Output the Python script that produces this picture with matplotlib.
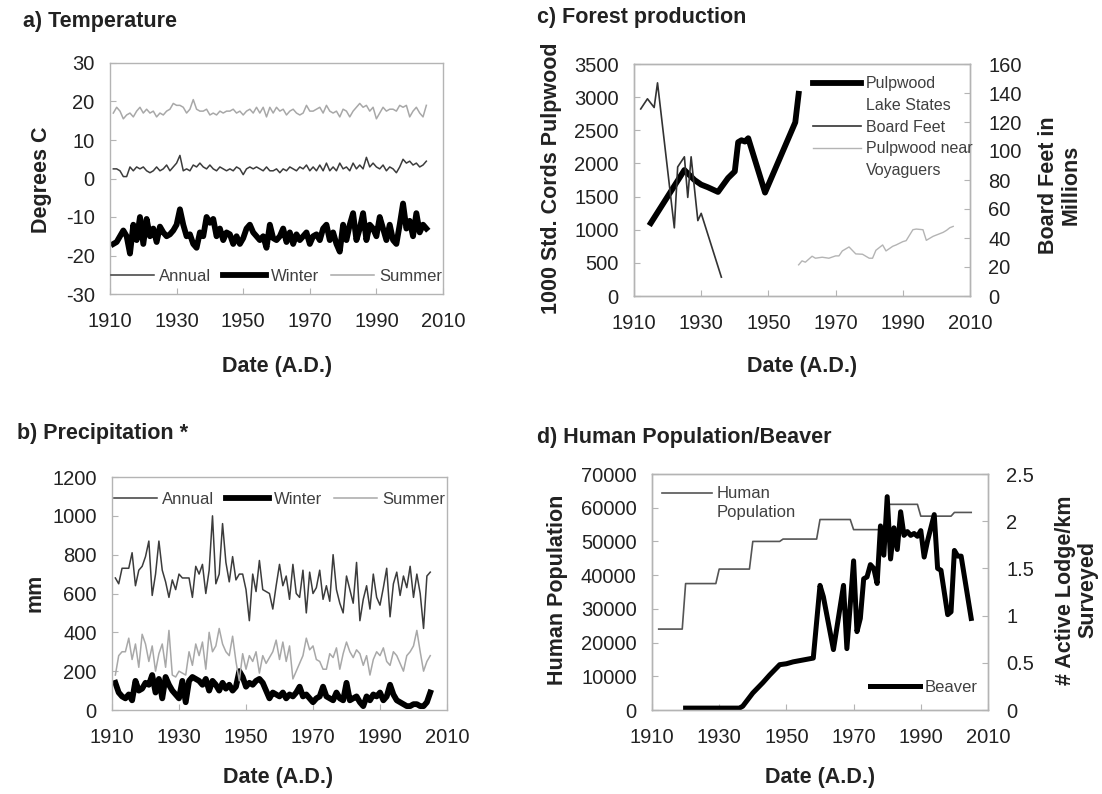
import matplotlib

matplotlib.use("Agg")
import matplotlib.pyplot as plt
import numpy as np
from matplotlib.lines import Line2D
from matplotlib.ticker import FuncFormatter, MultipleLocator

plt.rcParams["font.family"] = ["Liberation Sans", "DejaVu Sans"]
plt.rcParams["axes.unicode_minus"] = False

W, H = 1102, 794
SPINE = "#b4b4b4"
TXT = "#222222"

# a) Temperature, 1911-2005 (degrees C)
temp_years = np.arange(1911, 2006)
temp_annual = [
    2.5, 2.5, 2.0, 0.5, 0.5, 3.0, 2.0, 3.0, 2.5, 3.0,
    2.0, 1.5, 2.0, 3.0, 2.0, 2.5, 3.5, 2.0, 3.0, 4.0,
    6.0, 2.0, 2.5, 2.0, 3.5, 3.0, 4.0, 3.0, 2.5, 3.5,
    2.5, 2.0, 3.0, 2.5, 2.0, 2.5, 2.0, 3.0, 2.5, 1.0,
    2.5, 3.0, 2.5, 3.0, 2.5, 2.0, 3.0, 2.0, 2.0, 2.5,
    1.5, 2.5, 2.0, 3.0, 2.5, 2.0, 3.0, 2.5, 3.5, 2.0,
    3.0, 2.0, 3.5, 2.0, 4.0, 2.0, 3.0, 2.0, 4.0, 2.5,
    3.0, 2.0, 4.0, 2.5, 3.5, 2.5, 5.5, 3.0, 4.0, 3.0,
    2.5, 3.5, 2.0, 3.0, 2.5, 1.5, 3.0, 5.0, 4.0, 4.5,
    3.5, 4.0, 3.0, 3.5, 4.5,
]
temp_winter = [
    -17.0, -16.5, -15.0, -13.5, -15.0, -19.5, -12.0, -16.0, -10.0, -17.0,
    -10.5, -15.0, -13.0, -16.5, -12.5, -14.0, -15.0, -14.5, -13.5, -12.0,
    -8.0, -12.0, -15.0, -14.5, -17.0, -18.0, -14.0, -15.0, -10.0, -11.5,
    -10.5, -15.0, -13.0, -16.0, -14.0, -14.5, -17.0, -15.0, -17.0, -15.5,
    -13.0, -12.0, -14.0, -15.0, -16.0, -15.0, -18.0, -12.0, -15.5, -16.0,
    -15.0, -13.0, -16.5, -14.0, -17.0, -14.5, -16.0, -15.0, -14.0, -17.0,
    -15.0, -14.5, -16.0, -13.0, -12.0, -16.0, -14.0, -17.0, -19.0, -12.0,
    -16.0, -12.0, -9.0, -16.0, -13.0, -9.0, -16.0, -12.0, -13.0, -15.0,
    -10.0, -13.0, -16.0, -12.0, -16.0, -17.0, -12.0, -6.5, -13.0, -11.0,
    -15.0, -9.0, -14.0, -12.0, -13.0,
]
temp_summer = [
    17.0, 18.5, 17.5, 15.5, 16.5, 17.0, 16.0, 17.5, 18.5, 17.0,
    18.0, 17.0, 17.5, 16.0, 17.0, 16.5, 17.5, 18.0, 19.5, 19.0,
    19.0, 18.5, 17.0, 18.0, 20.5, 18.0, 17.5, 17.5, 18.0, 16.5,
    17.0, 16.5, 17.5, 17.0, 17.5, 17.5, 18.0, 17.0, 17.5, 16.5,
    17.5, 18.0, 17.0, 18.5, 17.0, 18.5, 16.0, 18.5, 17.0, 18.5,
    17.5, 18.0, 16.5, 17.5, 18.0, 17.0, 16.5, 17.0, 19.0, 17.5,
    17.5, 18.0, 18.5, 17.0, 19.0, 17.5, 17.0, 17.5, 16.0, 18.0,
    17.5, 16.0, 17.5, 18.5, 19.5, 18.5, 19.0, 17.5, 18.5, 15.5,
    17.0, 18.5, 17.5, 18.0, 18.0, 17.5, 19.0, 18.5, 19.0, 16.0,
    17.5, 18.5, 17.0, 16.0, 19.0,
]

# b) Precipitation, 1911-2005 (mm)
precip_years = np.arange(1911, 2006)
precip_annual = [
    680, 650, 730, 730, 730, 810, 640, 720, 740, 790,
    870, 590, 700, 870, 720, 660, 580, 670, 620, 700,
    680, 680, 680, 580, 740, 700, 750, 600, 720, 1000,
    650, 700, 960, 760, 660, 790, 670, 700, 700, 620,
    460, 700, 610, 770, 620, 610, 600, 520, 640, 750,
    640, 690, 570, 750, 600, 580, 720, 500, 710, 600,
    630, 720, 570, 640, 560, 800, 620, 550, 500, 690,
    620, 550, 760, 460, 570, 640, 520, 700, 580, 540,
    630, 730, 480, 650, 710, 590, 690, 630, 740, 580,
    700, 600, 420, 690, 710,
]
precip_winter = [
    140, 90, 70, 60, 80, 50, 150, 100, 110, 140,
    130, 180, 90, 160, 60, 170, 130, 100, 80, 60,
    150, 40, 150, 170, 160, 150, 130, 160, 100, 150,
    130, 100, 140, 110, 130, 100, 120, 200, 170, 120,
    140, 130, 150, 160, 140, 100, 60, 90, 80, 70,
    90, 60, 80, 70, 90, 120, 70, 80, 60, 40,
    60, 70, 120, 70, 60, 50, 90, 60, 50, 140,
    50, 60, 70, 40, 20, 70, 50, 80, 70, 90,
    50, 70, 130, 80, 50, 40, 30, 20, 20, 30,
    30, 20, 20, 40, 90,
]
precip_summer = [
    180, 280, 300, 300, 370, 260, 340, 220, 390, 340,
    250, 330, 200, 290, 340, 220, 410, 180, 170, 200,
    190, 180, 300, 230, 340, 280, 350, 210, 400, 300,
    330, 420, 340, 300, 280, 380, 250, 150, 290, 210,
    280, 250, 300, 190, 280, 240, 270, 300, 360, 260,
    350, 250, 330, 160, 200, 240, 280, 370, 310, 330,
    260, 250, 210, 210, 290, 270, 320, 210, 290, 350,
    300, 270, 310, 290, 230, 280, 180, 260, 300, 280,
    320, 250, 230, 300, 280, 240, 200, 280, 300, 330,
    410, 300, 200, 250, 280,
]

# c) Forest production
lake_years = [1915, 1925, 1928, 1930, 1932, 1935, 1938, 1940, 1941, 1942, 1943, 1944, 1949, 1958, 1959]
lake_pulpwood = [1100, 1900, 1750, 1680, 1640, 1570, 1780, 1880, 2320, 2350, 2330, 2380, 1560, 2620, 3050]
board_years = [1912, 1914, 1916, 1917, 1922, 1923, 1925, 1926, 1927, 1929, 1930, 1936]
board_feet = [129, 136, 130, 147, 47, 89, 96, 68, 96, 52, 57, 13]
voy_years = [1959, 1960, 1961, 1963, 1964, 1966, 1968, 1970, 1971, 1972, 1974, 1976, 1978, 1980,
             1981, 1982, 1984, 1985, 1987, 1988, 1990, 1991, 1993, 1994, 1996, 1997, 1999, 2000,
             2002, 2003, 2004, 2005]
voy_pulpwood = [470, 530, 510, 600, 570, 585, 570, 605, 605, 680, 740, 635, 630, 570,
                570, 690, 770, 680, 750, 770, 820, 835, 1000, 1010, 1000, 840, 900, 920,
                960, 990, 1030, 1050]

# d) Human population / beaver
pop_years = [1912, 1919, 1920, 1929, 1930, 1939, 1940, 1948, 1949, 1959, 1960, 1969, 1970, 1979,
             1980, 1989, 1990, 1999, 2000, 2005]
human_pop = [24000, 24000, 37500, 37500, 41800, 41800, 50000, 50000, 50700, 50700, 56500, 56500,
             53500, 53500, 61000, 61000, 57500, 57500, 58600, 58600]
beaver_years = [1920, 1925, 1930, 1936, 1937, 1940, 1943, 1945, 1948, 1950, 1952, 1955, 1958,
                1960, 1961, 1964, 1967, 1968, 1970, 1971, 1972, 1973, 1974, 1975, 1976, 1977,
                1978, 1979, 1980, 1981, 1982, 1983, 1984, 1985, 1986, 1987, 1988, 1989, 1990,
                1991, 1992, 1994, 1995, 1996, 1998, 1999, 2000, 2001, 2002, 2005]
beaver_lodges = [0.02, 0.02, 0.02, 0.02, 0.04, 0.18, 0.29, 0.37, 0.48, 0.49, 0.51, 0.53, 0.55,
                 1.32, 1.20, 0.64, 1.32, 0.65, 1.58, 0.83, 0.97, 1.39, 1.41, 1.54, 1.50, 1.34,
                 1.95, 1.64, 2.26, 1.60, 1.93, 1.70, 2.10, 1.85, 1.89, 1.85, 1.87, 1.84, 1.90,
                 1.62, 1.79, 2.07, 1.50, 1.48, 1.01, 1.04, 1.69, 1.63, 1.63, 0.97]

x_ticks = [1910, 1930, 1950, 1970, 1990, 2010]


def px_axes(fig, left, top, right, bottom):
    return fig.add_axes([left / W, 1 - bottom / H, (right - left) / W, (bottom - top) / H])


def put(fig, x, y, s, **kw):
    fig.text(x / W, 1 - y / H, s, **kw)


def style(ax):
    for s in ax.spines.values():
        s.set_color(SPINE)
        s.set_linewidth(1.0)
    ax.tick_params(direction="in", length=4, width=0.8, color=SPINE, labelsize=14.5, labelcolor=TXT)
    ax.tick_params(axis="x", pad=13)
    ax.tick_params(axis="y", pad=11)
    ax.set_xlim(1910, 2010)
    ax.set_xticks(x_ticks)


blank = Line2D([], [], color="none")
title_kw = dict(fontsize=15.5, fontweight="bold", color=TXT, ha="left", va="center")
label_kw = dict(fontsize=15.5, fontweight="bold", color=TXT, ha="center", va="center")
leg_kw = dict(frameon=False, fontsize=12, handletextpad=0.3, labelcolor="#404040")

fig = plt.figure(figsize=(W / 100, H / 100), dpi=100)

# a) Temperature
ax = px_axes(fig, 110, 63, 443, 294)
style(ax)
ax.plot(temp_years, temp_annual, color="#3c3c3c", lw=1.1, label="Annual")
ax.plot(temp_years, temp_winter, color="black", lw=4.2, label="Winter")
ax.plot(temp_years, temp_summer, color="#a8a8a8", lw=1.1, label="Summer")
ax.set_ylim(-30, 30)
ax.yaxis.set_major_locator(MultipleLocator(10))
ax.legend(loc="lower center", bbox_to_anchor=(0.5, 0.0), ncol=3, handlelength=2.6,
          columnspacing=0.7, borderaxespad=0.2, **leg_kw)
put(fig, 23, 22, "a) Temperature", **title_kw)
put(fig, 42, 180, "Degrees C", rotation=90, **label_kw)
put(fig, 277, 367, "Date (A.D.)", **label_kw)

# b) Precipitation
ax = px_axes(fig, 112, 477, 447, 710)
style(ax)
ax.plot(precip_years, precip_annual, color="#3c3c3c", lw=1.1, label="Annual")
ax.plot(precip_years, precip_winter, color="black", lw=4.2, label="Winter")
ax.plot(precip_years, precip_summer, color="#a8a8a8", lw=1.1, label="Summer")
ax.set_ylim(0, 1200)
ax.yaxis.set_major_locator(MultipleLocator(200))
ax.legend(loc="upper center", bbox_to_anchor=(0.5, 1.0), ncol=3, handlelength=2.6,
          columnspacing=0.7, borderaxespad=0.5, **leg_kw)
put(fig, 17, 433, "b) Precipitation *", **title_kw)
put(fig, 35, 593, "mm", rotation=90, **label_kw)
put(fig, 278, 777, "Date (A.D.)", **label_kw)

# c) Forest production
ax = px_axes(fig, 634, 64, 970, 296)
style(ax)
l1, = ax.plot(lake_years, lake_pulpwood, color="black", lw=4.2)
l3, = ax.plot(voy_years, voy_pulpwood, color="#b4b4b4", lw=1.0)
ax.set_ylim(0, 3500)
ax.yaxis.set_major_locator(MultipleLocator(500))
ax2 = ax.twinx()
style(ax2)
ax2.tick_params(axis="y", pad=13)
l2, = ax2.plot(board_years, board_feet, color="#333333", lw=1.2)
ax2.set_ylim(0, 160)
ax2.yaxis.set_major_locator(MultipleLocator(20))
leg_c = dict(leg_kw, fontsize=11.5)
ax2.legend([l1, blank, l2, l3, blank],
           ["Pulpwood", "Lake States", "Board Feet", "Pulpwood near", "Voyaguers"],
           loc="upper left", bbox_to_anchor=(0.515, 0.975), handlelength=3.0,
           labelspacing=0.42, borderaxespad=0.0, **leg_c)
put(fig, 537, 18, "c) Forest production", **title_kw)
put(fig, 552, 178, "1000 Std. Cords Pulpwood", rotation=90, **label_kw)
put(fig, 1060, 185, "Board Feet in\nMillions", rotation=90, linespacing=1.1, **label_kw)
put(fig, 802, 367, "Date (A.D.)", **label_kw)

# d) Human population / beaver
ax = px_axes(fig, 652, 474, 988, 710)
style(ax)
hp, = ax.plot(pop_years, human_pop, color="#555555", lw=1.2)
ax.set_ylim(0, 70000)
ax.yaxis.set_major_locator(MultipleLocator(10000))
ax.legend([hp, blank], ["Human", "Population"], loc="upper left", bbox_to_anchor=(0.0, 0.99),
          handlelength=3.0, labelspacing=0.2, borderaxespad=0.2, **leg_kw)
ax2 = ax.twinx()
style(ax2)
ax2.tick_params(axis="y", pad=13)
bv, = ax2.plot(beaver_years, beaver_lodges, color="black", lw=3.6)
ax2.set_ylim(0, 2.5)
ax2.yaxis.set_major_locator(MultipleLocator(0.5))
ax2.yaxis.set_major_formatter(FuncFormatter(lambda v, p: f"{v:g}"))
ax2.legend([bv], ["Beaver"], loc="lower right", bbox_to_anchor=(1.0, 0.02),
           handlelength=3.0, borderaxespad=0.2, **leg_kw)
put(fig, 537, 438, "d) Human Population/Beaver", **title_kw)
put(fig, 557, 590, "Human Population", rotation=90, **label_kw)
put(fig, 1077, 590, "# Active Lodge/km\nSurveyed", rotation=90, linespacing=1.1, **label_kw)
put(fig, 820, 778, "Date (A.D.)", **label_kw)

fig.savefig("out.png", dpi=100)
